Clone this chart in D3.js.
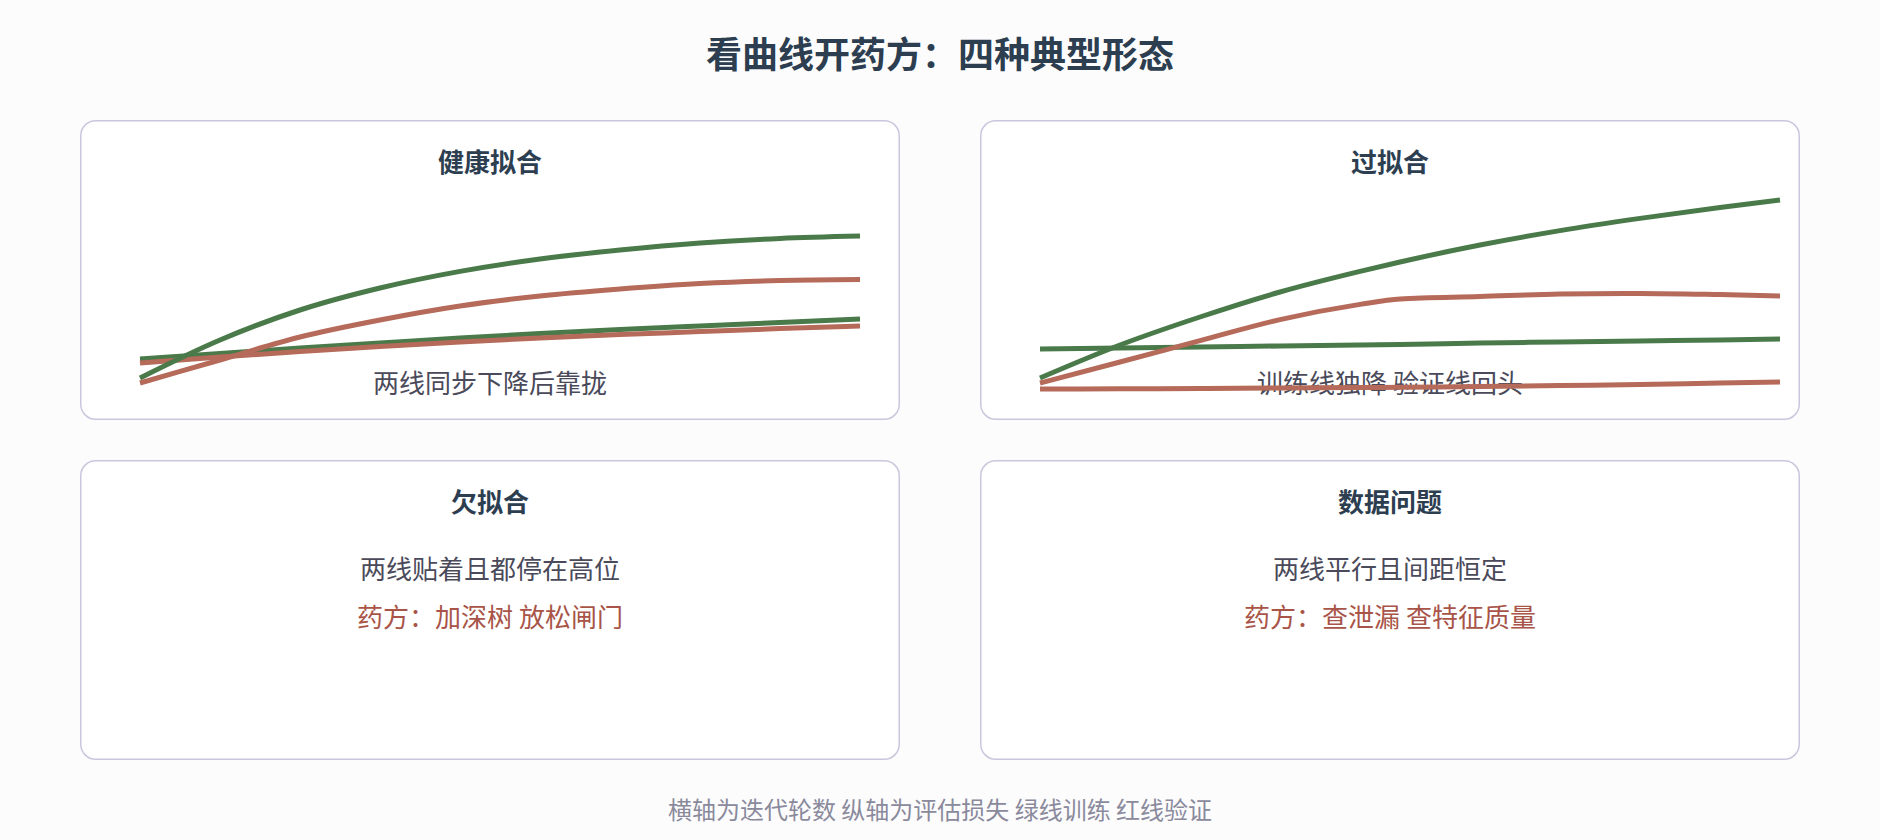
<!DOCTYPE html>
<html>
<head>
<meta charset="utf-8">
<script src="https://cdn.jsdelivr.net/npm/d3@7"></script>
<style>
  html, body { margin: 0; padding: 0; background: #fcfcfd; }
  svg { display: block; }
  text { font-family: "Noto Sans CJK SC", "Noto Sans", sans-serif; }
</style>
</head>
<body>
<svg id="chart" width="1880" height="840"></svg>
<script>
// ---------- data ----------
const chartTitle = "看曲线开药方：四种典型形态";
const footerText = "横轴为迭代轮数 纵轴为评估损失 绿线训练 红线验证";

const panelTitles = ["健康拟合", "过拟合", "欠拟合", "数据问题"];
const panelNotes = ["两线同步下降后靠拢", "训练线独降 验证线回头", "两线贴着且都停在高位", "两线平行且间距恒定"];
const panelRemedies = [null, null, "药方：加深树 放松闸门", "药方：查泄漏 查特征质量"];

// 健康拟合
const healthyEpochs = [0, 4, 8, 12, 16, 20, 24, 28, 32, 36];
const healthyTrainFlat = [0.205, 0.232, 0.26, 0.285, 0.31, 0.332, 0.352, 0.37, 0.387, 0.405];
const healthyValFlat   = [0.185, 0.215, 0.242, 0.267, 0.29, 0.31, 0.327, 0.342, 0.357, 0.37];
const healthyTrain     = [0.11, 0.30, 0.45, 0.56, 0.643, 0.705, 0.75, 0.785, 0.808, 0.82];
const healthyVal       = [0.085, 0.2, 0.315, 0.4, 0.47, 0.52, 0.555, 0.582, 0.597, 0.602];

// 过拟合
const overfitEpochs = [0, 4, 8, 12, 16, 18, 22, 26, 30, 34, 37];
const overfitTrainFlat = [0.255, 0.26, 0.265, 0.27, 0.275, 0.277, 0.285, 0.29, 0.295, 0.3, 0.305];
const overfitValFlat   = [0.055, 0.056, 0.057, 0.06, 0.062, 0.064, 0.067, 0.072, 0.077, 0.085, 0.09];
const overfitTrain     = [0.11, 0.275, 0.415, 0.54, 0.643, 0.69, 0.775, 0.847, 0.908, 0.963, 1.0];
const overfitVal       = [0.085, 0.19, 0.297, 0.402, 0.478, 0.505, 0.517, 0.53, 0.533, 0.527, 0.52];

const panelSeries = [
  { epochs: healthyEpochs, lines: [
    { values: healthyTrainFlat, kind: "train" },
    { values: healthyValFlat, kind: "val" },
    { values: healthyTrain, kind: "train" },
    { values: healthyVal, kind: "val" } ] },
  { epochs: overfitEpochs, lines: [
    { values: overfitTrainFlat, kind: "train" },
    { values: overfitValFlat, kind: "val" },
    { values: overfitTrain, kind: "train" },
    { values: overfitVal, kind: "val" } ] },
  null,
  null
];

// ---------- style ----------
const colors = {
  title: "#2c3e50", note: "#4a4a5a", remedy: "#a85448", footer: "#8a8a9c",
  border: "#c9c7dc", train: "#4a7a4a", val: "#b56a5a"
};

const svg = d3.select("#chart");
const W = 1880;

svg.append("text")
  .attr("x", W / 2).attr("y", 52)
  .attr("text-anchor", "middle").attr("dominant-baseline", "central")
  .attr("font-size", 36).attr("font-weight", "bold")
  .attr("fill", colors.title)
  .text(chartTitle);

const panelW = 820, panelH = 300;
const colX = d3.scaleOrdinal().domain([0, 1]).range([80, 980]);
const rowY = d3.scaleOrdinal().domain([0, 1]).range([120, 460]);

panelTitles.forEach((t, i) => {
  const col = i % 2, row = Math.floor(i / 2);
  const g = svg.append("g").attr("transform", `translate(${colX(col)},${rowY(row)})`);
  g.append("rect")
    .attr("x", 0.75).attr("y", 0.75)
    .attr("width", panelW - 1.5).attr("height", panelH - 1.5)
    .attr("rx", 15).attr("ry", 15)
    .attr("fill", "#ffffff").attr("stroke", colors.border).attr("stroke-width", 1.5);
  g.append("text")
    .attr("x", panelW / 2).attr("y", 40)
    .attr("text-anchor", "middle").attr("dominant-baseline", "central")
    .attr("font-size", 26).attr("font-weight", "bold").attr("fill", colors.title)
    .text(t);

  const series = panelSeries[i];
  if (series) {
    g.append("text")
      .attr("x", panelW / 2).attr("y", 261)
      .attr("text-anchor", "middle").attr("dominant-baseline", "central")
      .attr("font-size", 26).attr("fill", colors.note)
      .text(panelNotes[i]);
    const x = d3.scaleLinear().domain([0, 37]).range([60, 800]);
    const y = d3.scaleLinear().domain([0, 1]).range([280, 80]);
    const line = d3.line()
      .x((d, k) => x(series.epochs[k]))
      .y(d => y(d))
      .curve(d3.curveMonotoneX);
    series.lines.forEach(s => {
      g.append("path")
        .attr("d", line(s.values))
        .attr("fill", "none")
        .attr("stroke", s.kind === "train" ? colors.train : colors.val)
        .attr("stroke-width", 5);
    });
  } else {
    g.append("text")
      .attr("x", panelW / 2).attr("y", 107)
      .attr("text-anchor", "middle").attr("dominant-baseline", "central")
      .attr("font-size", 26).attr("fill", colors.note)
      .text(panelNotes[i]);
    if (panelRemedies[i]) {
      g.append("text")
        .attr("x", panelW / 2).attr("y", 155)
        .attr("text-anchor", "middle").attr("dominant-baseline", "central")
        .attr("font-size", 26).attr("fill", colors.remedy)
        .text(panelRemedies[i]);
    }
  }
});

svg.append("text")
  .attr("x", W / 2).attr("y", 808)
  .attr("text-anchor", "middle").attr("dominant-baseline", "central")
  .attr("font-size", 24).attr("fill", colors.footer)
  .text(footerText);
</script>
</body>
</html>
